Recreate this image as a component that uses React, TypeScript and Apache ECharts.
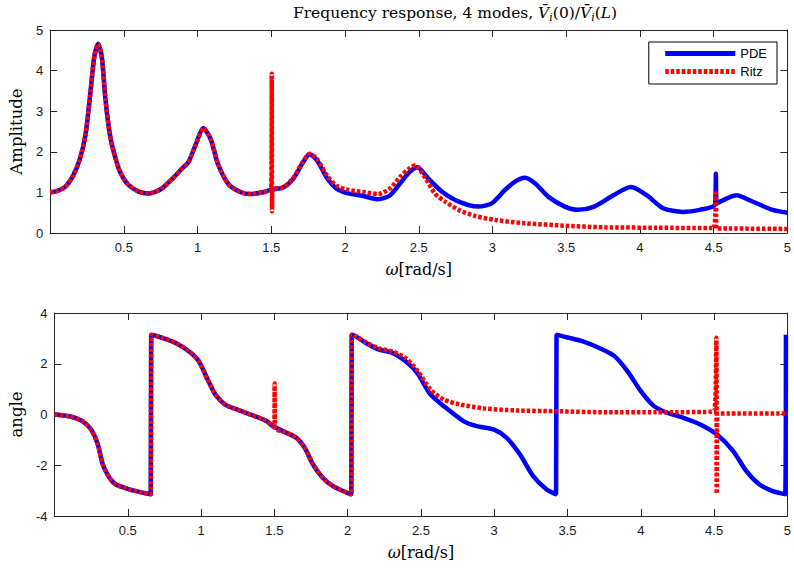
import React, { useEffect, useRef } from "react";
import * as echarts from "echarts";

// ---------- data ----------
const pdeAmpW = [0.0, 0.05, 0.1, 0.15, 0.2, 0.24, 0.27, 0.3, 0.325, 0.35, 0.375, 0.4, 0.42, 0.465, 0.5, 0.533, 0.6, 0.668, 0.71, 0.76, 0.83, 0.89, 0.94, 0.985, 1.04, 1.09, 1.14, 1.21, 1.29, 1.36, 1.45, 1.5, 1.58, 1.65, 1.71, 1.76, 1.81, 1.88, 1.94, 2.01, 2.125, 2.226, 2.306, 2.373, 2.44, 2.49, 2.565, 2.656, 2.746, 2.836, 2.904, 2.995, 3.085, 3.15, 3.22, 3.29, 3.38, 3.49, 3.58, 3.69, 3.82, 3.94, 4.045, 4.157, 4.29, 4.406, 4.51, 4.515, 4.52, 4.654, 4.767, 4.9, 5.0];
const pdeAmp = [1.0, 1.04, 1.13, 1.37, 1.8, 2.42, 3.35, 4.35, 4.66, 4.35, 3.3, 2.55, 2.16, 1.59, 1.33, 1.18, 1.02, 0.975, 1.01, 1.1, 1.34, 1.57, 1.76, 2.16, 2.58, 2.3, 1.68, 1.2, 1.01, 0.96, 1.01, 1.07, 1.12, 1.34, 1.71, 1.94, 1.79, 1.34, 1.1, 0.99, 0.91, 0.83, 0.93, 1.22, 1.51, 1.62, 1.34, 1.02, 0.81, 0.69, 0.65, 0.73, 1.06, 1.26, 1.36, 1.22, 0.89, 0.65, 0.57, 0.65, 0.93, 1.13, 0.93, 0.61, 0.52, 0.57, 0.71, 1.46, 0.73, 0.93, 0.77, 0.57, 0.5];

const ritzAmpW = [0.0, 0.05, 0.1, 0.15, 0.2, 0.24, 0.27, 0.3, 0.325, 0.35, 0.375, 0.4, 0.42, 0.465, 0.5, 0.533, 0.6, 0.668, 0.71, 0.76, 0.83, 0.89, 0.94, 0.985, 1.04, 1.09, 1.14, 1.21, 1.29, 1.36, 1.45, 1.5, 1.503, 1.505, 1.508, 1.58, 1.65, 1.71, 1.76, 1.81, 1.88, 1.94, 2.01, 2.125, 2.226, 2.306, 2.373, 2.44, 2.475, 2.54, 2.61, 2.68, 2.77, 2.88, 3.02, 3.22, 3.49, 3.76, 4.1, 4.5, 4.515, 4.518, 4.6, 5.0];
const ritzAmp = [1.0, 1.04, 1.13, 1.37, 1.8, 2.42, 3.35, 4.35, 4.66, 4.35, 3.3, 2.55, 2.16, 1.59, 1.33, 1.18, 1.02, 0.975, 1.01, 1.1, 1.34, 1.57, 1.76, 2.16, 2.58, 2.3, 1.68, 1.2, 1.01, 0.96, 1.01, 1.07, 3.92, 0.53, 1.07, 1.12, 1.36, 1.73, 1.95, 1.82, 1.4, 1.17, 1.07, 1.01, 0.96, 1.1, 1.38, 1.6, 1.67, 1.38, 0.97, 0.77, 0.57, 0.42, 0.32, 0.24, 0.18, 0.14, 0.13, 0.12, 0.98, 0.11, 0.11, 0.1];

const pdePhaseW = [0.0, 0.1, 0.19, 0.25, 0.296, 0.33, 0.375, 0.42, 0.51, 0.6, 0.657, 0.66, 0.736, 0.827, 0.917, 0.985, 1.04, 1.098, 1.165, 1.244, 1.335, 1.447, 1.49, 1.583, 1.65, 1.707, 1.764, 1.83, 1.9, 2.01, 2.025, 2.028, 2.057, 2.125, 2.215, 2.306, 2.396, 2.475, 2.565, 2.656, 2.79, 2.88, 2.995, 3.085, 3.175, 3.266, 3.356, 3.422, 3.425, 3.47, 3.6, 3.717, 3.82, 3.91, 4.0, 4.09, 4.18, 4.29, 4.406, 4.52, 4.63, 4.72, 4.81, 4.9, 4.985, 4.99];
const pdePhase = [0.0, -0.07, -0.26, -0.59, -1.18, -1.97, -2.49, -2.76, -2.95, -3.08, -3.14, 3.14, 3.02, 2.82, 2.49, 2.1, 1.44, 0.79, 0.39, 0.2, 0.0, -0.26, -0.46, -0.72, -0.92, -1.31, -1.97, -2.49, -2.82, -3.12, -3.14, 3.14, 3.08, 2.82, 2.56, 2.43, 2.1, 1.64, 0.79, 0.33, -0.26, -0.46, -0.59, -0.92, -1.57, -2.43, -2.95, -3.14, 3.14, 3.08, 2.89, 2.62, 2.3, 1.7, 0.92, 0.33, 0.07, -0.13, -0.39, -0.79, -1.44, -2.23, -2.76, -3.02, -3.14, 3.14];

const ritzPhaseW = [0.0, 0.1, 0.19, 0.25, 0.296, 0.33, 0.375, 0.42, 0.51, 0.6, 0.657, 0.66, 0.736, 0.827, 0.917, 0.985, 1.04, 1.098, 1.165, 1.244, 1.335, 1.447, 1.49, 1.5, 1.502, 1.505, 1.583, 1.65, 1.707, 1.764, 1.83, 1.9, 2.01, 2.025, 2.028, 2.057, 2.125, 2.215, 2.306, 2.396, 2.475, 2.565, 2.656, 2.77, 2.93, 3.15, 3.42, 3.76, 4.1, 4.5, 4.515, 4.518, 4.522, 4.6, 5.0];
const ritzPhase = [0.0, -0.07, -0.26, -0.59, -1.18, -1.97, -2.49, -2.76, -2.95, -3.08, -3.14, 3.14, 3.02, 2.82, 2.49, 2.1, 1.44, 0.79, 0.39, 0.2, 0.0, -0.26, -0.46, -0.5, 1.22, -0.52, -0.72, -0.92, -1.31, -1.97, -2.49, -2.82, -3.12, -3.14, 3.14, 3.08, 2.84, 2.6, 2.48, 2.22, 1.74, 0.98, 0.59, 0.39, 0.24, 0.16, 0.13, 0.09, 0.09, 0.12, 3.02, -3.12, 0.03, 0.04, 0.04];

const xTicksMax = 5;
const ampRange = [0, 5];
const phaseRange = [-4, 4];
const titleText = "Frequency response, 4 modes, ";

// ---------- styles ----------
const BLUE = "#0000ff";
const RED = "#ff0000";
const AX = "#262626";
const SANS = "Liberation Sans";
const SERIF = "DejaVu Serif";

const pairs = (w: number[], v: number[]) => w.map((x, i) => [x, v[i]]);

export default function App() {
  const ref = useRef<HTMLDivElement>(null);

  useEffect(() => {
    if (!ref.current) return;
    const chart = echarts.init(ref.current, undefined, { renderer: "svg" });

    const grids = [
      { left: 50, top: 30, width: 738, height: 203 },
      { left: 50, top: 313, width: 738, height: 203 },
    ];

    const xName = {
      name: "{i|ω}[rad/s]",
      nameLocation: "middle" as const,
      nameGap: 28,
      nameTextStyle: {
        fontFamily: SERIF,
        fontSize: 16,
        color: "#000",
        rich: { i: { fontFamily: SERIF, fontStyle: "italic", fontSize: 16, color: "#000" } },
      },
    };

    const baseX = (gridIndex: number, position: "bottom" | "top", labels: boolean) => ({
      type: "value" as const,
      gridIndex,
      position,
      min: 0,
      max: xTicksMax,
      interval: 0.5,
      axisLine: { show: true, onZero: false, lineStyle: { color: AX, width: 1 } },
      axisTick: { show: true, inside: true, length: 7, lineStyle: { color: AX } },
      splitLine: { show: false },
      axisLabel: {
        show: labels,
        showMinLabel: false,
        margin: 8,
        fontFamily: SANS,
        fontSize: 13,
        color: "#1a1a1a",
      },
      ...(labels ? xName : {}),
    });

    const baseY = (
      gridIndex: number,
      position: "left" | "right",
      range: number[],
      interval: number,
      labels: boolean,
      name?: string
    ) => ({
      type: "value" as const,
      gridIndex,
      position,
      min: range[0],
      max: range[1],
      interval,
      axisLine: { show: true, onZero: false, lineStyle: { color: AX, width: 1 } },
      axisTick: { show: true, inside: true, length: 7, lineStyle: { color: AX } },
      splitLine: { show: false },
      axisLabel: {
        show: labels,
        margin: 7,
        fontFamily: SANS,
        fontSize: 13,
        color: "#1a1a1a",
      },
      ...(name
        ? {
            name,
            nameLocation: "middle" as const,
            nameGap: 25,
            nameTextStyle: { fontFamily: SERIF, fontSize: 16.5, color: "#000" },
          }
        : {}),
    });

    const lineBlue = { color: BLUE, width: 4.5, type: "solid" as const };
    const lineRed = { color: RED, width: 4.5, type: [3.5, 2] as number[], cap: "butt" as const };

    chart.setOption({
      animation: false,
      backgroundColor: "#fff",
      grid: grids,
      xAxis: [baseX(0, "bottom", true), baseX(0, "top", false), baseX(1, "bottom", true), baseX(1, "top", false)],
      yAxis: [
        baseY(0, "left", ampRange, 1, true, "Amplitude"),
        baseY(0, "right", ampRange, 1, false),
        baseY(1, "left", phaseRange, 2, true, "angle"),
        baseY(1, "right", phaseRange, 2, false),
      ],
      legend: {
        data: ["PDE", "Ritz"],
        orient: "vertical",
        right: 17,
        top: 42,
        backgroundColor: "#fff",
        borderColor: "#000",
        borderWidth: 1,
        borderRadius: 0,
        padding: [5, 10, 6, 14],
        itemWidth: 70,
        itemHeight: 14,
        itemGap: 5,
        itemStyle: { opacity: 0 },
        lineStyle: { width: 5 },
        textStyle: { fontFamily: SANS, fontSize: 13, color: "#000" },
      },
      graphic: [
        {
          type: "text",
          x: 455,
          y: 13,
          style: {
            text: "{a|" + titleText + "}{v|V\u0304}{s|i}{a|(0)/}{v|V\u0304}{s|i}{a|(}{v|L}{a|)}",
            align: "center",
            verticalAlign: "middle",
            rich: {
              a: { fontFamily: SERIF, fontSize: 15.5, color: "#000", lineHeight: 20 },
              v: { fontFamily: SERIF, fontSize: 15.5, fontStyle: "italic", color: "#000", lineHeight: 20 },
              s: { fontFamily: SERIF, fontSize: 11, fontStyle: "italic", color: "#000", verticalAlign: "bottom", lineHeight: 20 },
            },
          },
        },
      ],
      series: [
        {
          name: "PDE",
          type: "line",
          xAxisIndex: 0,
          yAxisIndex: 0,
          data: pairs(pdeAmpW, pdeAmp),
          showSymbol: false,
          symbol: "none",
          smooth: 0.25,
          lineStyle: lineBlue,
          itemStyle: { color: BLUE },
        },
        {
          name: "Ritz",
          type: "line",
          xAxisIndex: 0,
          yAxisIndex: 0,
          data: pairs(ritzAmpW, ritzAmp),
          showSymbol: false,
          symbol: "none",
          smooth: 0.25,
          lineStyle: lineRed,
          itemStyle: { color: RED },
        },
        {
          name: "PDE",
          type: "line",
          xAxisIndex: 2,
          yAxisIndex: 2,
          data: pairs(pdePhaseW, pdePhase),
          showSymbol: false,
          symbol: "none",
          smooth: 0.25,
          lineStyle: lineBlue,
          itemStyle: { color: BLUE },
        },
        {
          name: "Ritz",
          type: "line",
          xAxisIndex: 2,
          yAxisIndex: 2,
          data: pairs(ritzPhaseW, ritzPhase),
          showSymbol: false,
          symbol: "none",
          smooth: 0.25,
          lineStyle: lineRed,
          itemStyle: { color: RED },
        },
      ],
    });

    return () => chart.dispose();
  }, []);

  return (
    <div
      ref={ref}
      style={{ width: 794, height: 570, position: "absolute", left: 0, top: 0, background: "#fff" }}
    />
  );
}
